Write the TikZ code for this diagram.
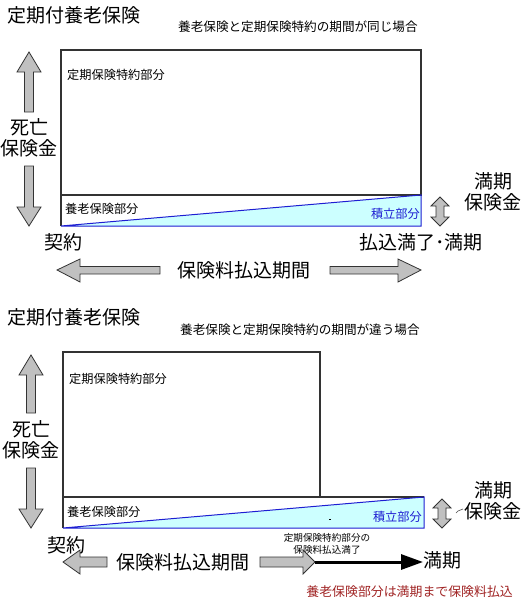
\documentclass[tikz,border=0pt]{standalone}
\usepackage{fontspec}
\setmainfont{Noto Sans CJK JP}
\usetikzlibrary{arrows.meta}
\definecolor{boxline}{HTML}{333333}
\definecolor{tri}{HTML}{CCFFFF}
\definecolor{triline}{HTML}{1E1ED2}
\definecolor{blk}{HTML}{C0C0C0}
\definecolor{redtxt}{HTML}{A02424}
\tikzset{
  big/.style={font=\fontsize{19}{21}\selectfont, inner sep=0, align=center},
  title/.style={font=\fontsize{19}{21}\selectfont, inner sep=0, anchor=west},
  sub/.style={font=\fontsize{12.6}{14}\selectfont, inner sep=0, anchor=west},
  lab/.style={font=\fontsize{12.2}{14}\selectfont, inner sep=0},
  tiny/.style={font=\fontsize{9.6}{12}\selectfont, inner sep=0, align=center},
  box/.style={draw=boxline, line width=1.1pt},
  blockarrow/.style={draw=black!80, fill=blk, line width=0.8pt, line join=miter},
}
\begin{document}
\begin{tikzpicture}[x=1pt,y=-1pt]
\useasboundingbox (0,0) rectangle (522,600);
% ================= TOP =================
\node[title] (t1) at (7,15) {定期付養老保険};
\node[sub] (s1) at (178,27) {養老保険と定期保険特約の期間が同じ場合};
% savings triangle
\fill[tri] (61,226) -- (421,195) -- (421,226) -- cycle;
\draw[box] (61,50) rectangle (421,195);
\draw[box] (61,195) -- (61,226);
\draw[triline, line width=1pt] (61,226) -- (421,195) -- (421,226) -- cycle;
\node[lab, anchor=west] (a1) at (67,75) {定期保険特約部分};
\node[lab, anchor=west] (b1) at (65,209) {養老保険部分};
\node[lab, anchor=east, text=triline] (c1) at (420,214) {積立部分};
% left vertical arrows
\draw[blockarrow] (29,52) -- (41,72) -- (33.5,72) -- (33.5,112) -- (24.5,112) -- (24.5,72) -- (17,72) -- cycle;
\node[big] (d1) at (29,138) {死亡\\保険金};
\draw[blockarrow] (29,226) -- (41,207) -- (33.5,207) -- (33.5,166) -- (24.5,166) -- (24.5,207) -- (17,207) -- cycle;
% right double arrow
\draw[blockarrow] (440,197) -- (449,206) -- (444,206) -- (444,217) -- (449,217) -- (440,226) -- (431,217) -- (436,217) -- (436,206) -- (431,206) -- cycle;
\node[big] (m1) at (493,192) {満期\\保険金};
\node[big] (k1) at (63,242) {契約};
\node[big] (p1) at (421,242) {払込満了･満期};
% horizontal arrows
\draw[blockarrow] (57,270) -- (80,259) -- (80,266.5) -- (160,266.5) -- (160,274) -- (80,274) -- (80,282) -- cycle;
\node[big] (h1) at (244,270) {保険料払込期間};
\draw[blockarrow] (421,270) -- (398,259) -- (398,266.5) -- (330,266.5) -- (330,274) -- (398,274) -- (398,282) -- cycle;
% ================= BOTTOM =================
\node[title] (t2) at (7,317) {定期付養老保険};
\node[sub] (s2) at (180,330) {養老保険と定期保険特約の期間が違う場合};
\fill[tri] (63,528) -- (424,497) -- (424,528) -- cycle;
\draw[box] (63,352) rectangle (320,497);
\draw[box] (63,497) -- (424,497);
\draw[box] (63,497) -- (63,528);
\draw[triline, line width=1pt] (63,528) -- (424,497) -- (424,528) -- cycle;
\node[lab, anchor=west] (a2) at (69,379) {定期保険特約部分};
\node[lab, anchor=west] (b2) at (67,512) {養老保険部分};
\node[lab, anchor=east, text=triline] (c2) at (422,517) {積立部分};
\fill (329,518.5) rectangle (331,519.5);
\draw[blockarrow] (31,355) -- (43,375) -- (35.5,375) -- (35.5,413) -- (26.5,413) -- (26.5,375) -- (19,375) -- cycle;
\node[big] (d2) at (31,440) {死亡\\保険金};
\draw[blockarrow] (31,528) -- (43,509) -- (35.5,509) -- (35.5,468) -- (26.5,468) -- (26.5,509) -- (19,509) -- cycle;
\draw[blockarrow] (442,499) -- (451,508) -- (446,508) -- (446,519) -- (451,519) -- (442,528) -- (433,519) -- (438,519) -- (438,508) -- (433,508) -- cycle;
\draw[black!70, line width=0.6pt] (456,513) -- (458,511) -- (463,509);
\node[big] (m2) at (493,501) {満期\\保険金};
\node[big] (k2) at (66,545) {契約};
\node[tiny] (n2) at (327,544) {定期保険特約部分の\\保険料払込満了};
\draw[blockarrow] (63,562) -- (80,550) -- (80,557) -- (107,557) -- (107,567) -- (80,567) -- (80,574) -- cycle;
\node[big] (h2) at (183,562) {保険料払込期間};
\draw[blockarrow] (315,562) -- (303,550) -- (303,557) -- (260,557) -- (260,567) -- (303,567) -- (303,574) -- cycle;
\coordinate (bs) at (315,562);
\coordinate (be) at (423,562);
\draw[line width=3pt, -{Triangle[length=22pt,width=15pt]}] (bs) -- (be);
\node[big, anchor=west] (mk2) at (423,560) {満期};
\node[font=\fontsize{12.9}{14}\selectfont, inner sep=0, anchor=east, text=redtxt] (r2) at (513,592) {養老保険部分は満期まで保険料払込};
\end{tikzpicture}
\end{document}
